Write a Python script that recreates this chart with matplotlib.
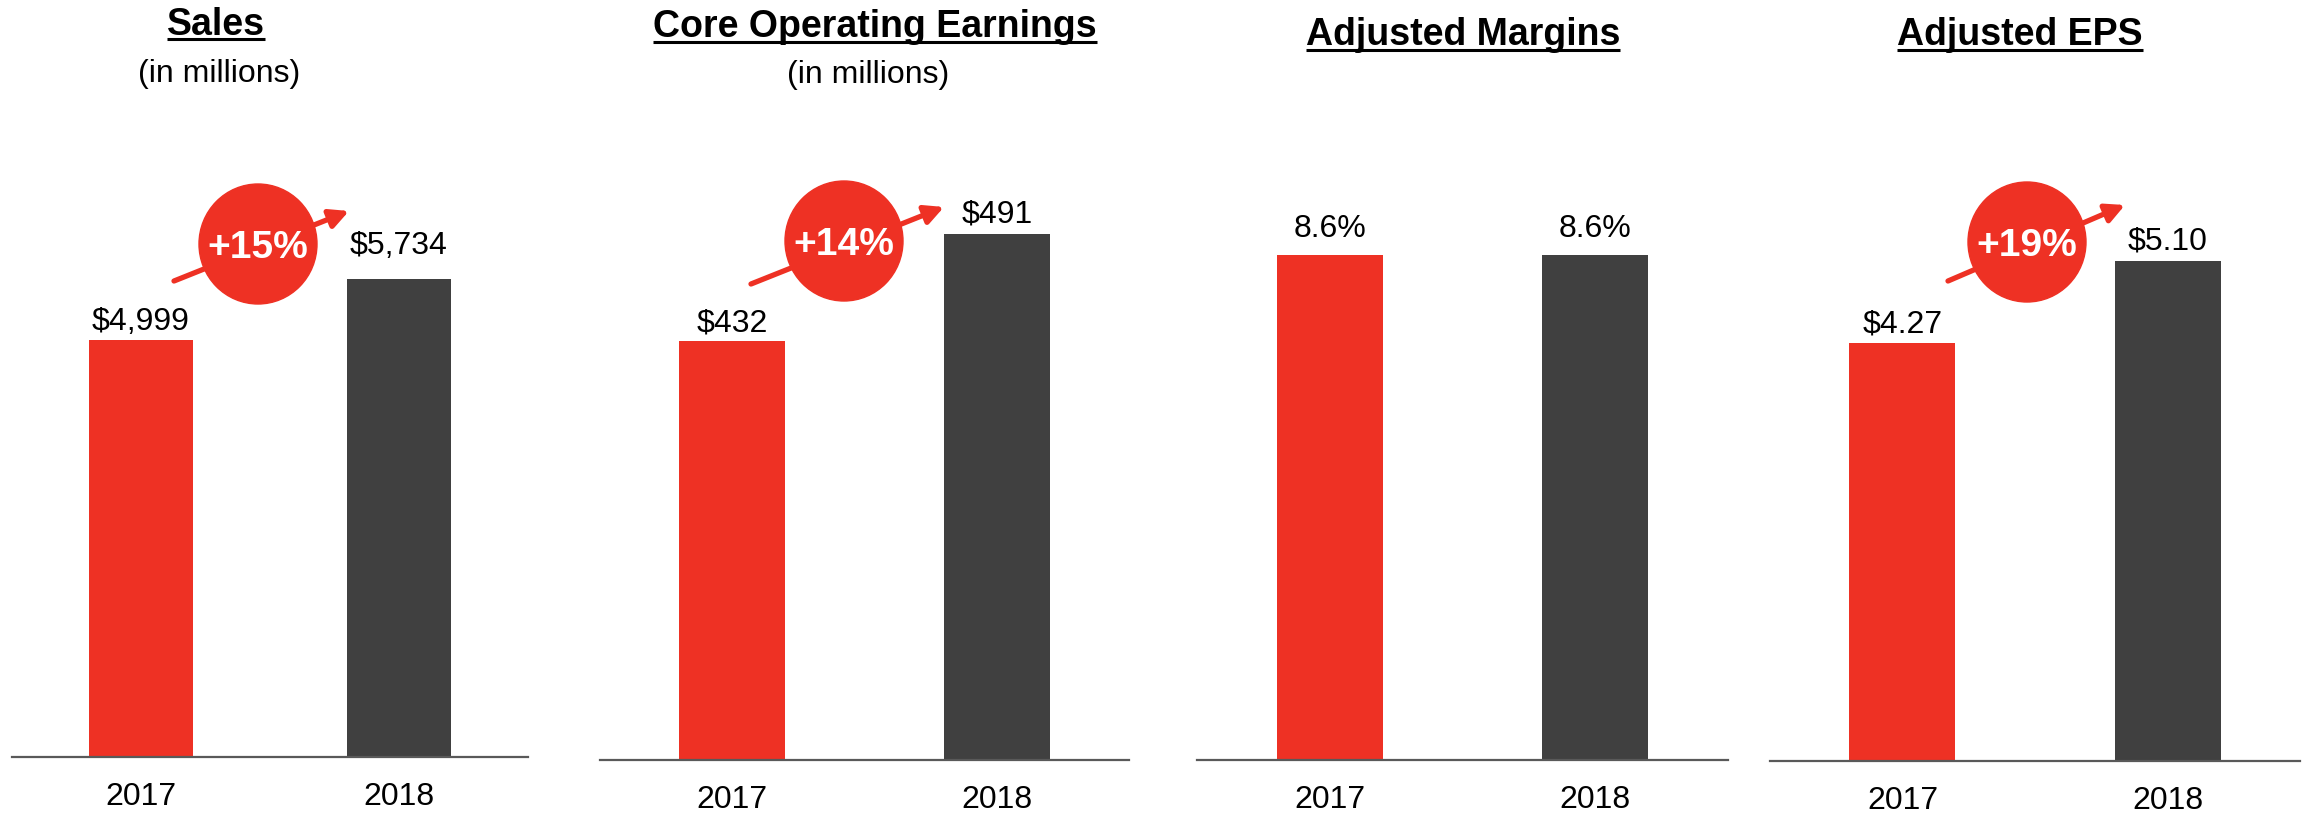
import matplotlib
matplotlib.use('Agg')
import matplotlib.pyplot as plt
from matplotlib.patches import Ellipse, FancyArrowPatch

# ---- data ----
years = ['2017', '2018']
sales = [4999, 5734]
core_earnings = [432, 491]
adj_margins = [8.6, 8.6]
adj_eps = [4.27, 5.10]

titles = ['Sales', 'Core Operating Earnings', 'Adjusted Margins', 'Adjusted EPS']
subtitles = ['(in millions)', '(in millions)', '', '']
value_labels = [['$4,999', '$5,734'], ['$432', '$491'], ['8.6%', '8.6%'], ['$4.27', '$5.10']]
growth = ['+15%', '+14%', None, '+19%']
series = [sales, core_earnings, adj_margins, adj_eps]

# ---- layout (pixels of the 2313x813 canvas) ----
W, H = 2313, 813
AX_TOP = 100
axes_px = [(12, 528, 757), (600, 1129, 760), (1197, 1728, 760), (1770, 2300, 761)]
ylims = [(0, 7878), (201, 565), (0, 11.24), (0, 6.745)]
label_pad = [[10, 25], [10, 12], [18, 18], [10, 12]]
title_pos = [(216, 35), (875, 37), (1463, 45), (2020, 45)]
underline_y = [39, 42, 50, 50]
subtitle_pos = [(219, 82), (868, 83), None, None]
badge_pos = [(258, 244), (844, 241), None, (2027, 242)]
arrow_pos = [((174, 281), (349, 211)), ((751, 284), (944, 207)), None, ((1948, 281), (2125, 205))]
BADGE_W, BADGE_H = 118, 120

RED = '#EE3124'
DARK = '#404040'

plt.rcParams['font.family'] = ['Liberation Sans', 'DejaVu Sans']

fig = plt.figure(figsize=(W / 100, H / 100), dpi=100)

for i, (left, right, base) in enumerate(axes_px):
    ax = fig.add_axes([left / W, 1 - base / H, (right - left) / W, (base - AX_TOP) / H])
    vals = series[i]
    ax.bar([0, 1], vals, width=0.4, color=[RED, DARK])
    ax.set_xlim(-0.5, 1.5)
    ax.set_ylim(*ylims[i])
    for s in ['top', 'left', 'right']:
        ax.spines[s].set_visible(False)
    ax.spines['bottom'].set_color('#595959')
    ax.spines['bottom'].set_linewidth(1.6)
    ax.set_yticks([])
    ax.set_xticks([0, 1])
    ax.set_xticklabels(years, fontsize=23)
    ax.tick_params(axis='x', length=0, pad=18)
    ax.patch.set_visible(False)
    for j, v in enumerate(vals):
        ax.annotate(value_labels[i][j], xy=(j, v), xytext=(0, label_pad[i][j] * 0.72),
                    textcoords='offset points', ha='center', va='baseline', fontsize=23)

# overlay in pixel coordinates for titles and growth badges
ov = fig.add_axes([0, 0, 1, 1])
ov.set_xlim(0, W)
ov.set_ylim(H, 0)
ov.axis('off')

title_texts = []
for i, t in enumerate(titles):
    x, y = title_pos[i]
    title_texts.append(ov.text(x, y, t, ha='center', va='baseline', fontsize=27, fontweight='bold'))
    if subtitle_pos[i] is not None:
        sx, sy = subtitle_pos[i]
        ov.text(sx, sy, subtitles[i], ha='center', va='baseline', fontsize=23)

for i, g in enumerate(growth):
    if g is None:
        continue
    (x0, y0), (x1, y1) = arrow_pos[i]
    ov.add_patch(FancyArrowPatch((x0, y0), (x1, y1), arrowstyle='-|>,head_length=0.75,head_width=0.38',
                                 mutation_scale=15, lw=3.8, color=RED, shrinkA=0, shrinkB=0))
    cx, cy = badge_pos[i]
    ov.add_patch(Ellipse((cx, cy), BADGE_W, BADGE_H, color=RED))
    ov.text(cx, cy + 14, g, ha='center', va='baseline', fontsize=28, fontweight='bold', color='white')

# underline the titles
fig.canvas.draw()
renderer = fig.canvas.get_renderer()
inv = ov.transData.inverted()
for i, t in enumerate(title_texts):
    bb = t.get_window_extent(renderer)
    xa = inv.transform((bb.x0, bb.y0))[0]
    xb = inv.transform((bb.x1, bb.y0))[0]
    ov.plot([xa, xb], [underline_y[i], underline_y[i]], color='black', lw=2.2, solid_capstyle='butt')

fig.savefig('out.png', dpi=100)
